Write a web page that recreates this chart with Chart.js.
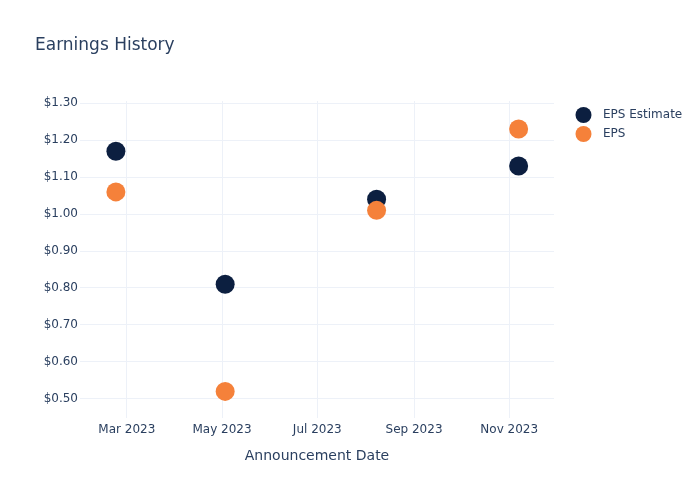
<!DOCTYPE html>
<html lang="en">

<head>
    <meta charset="UTF-8">
    <title>Earnings History</title>
    <script src="https://cdn.jsdelivr.net/npm/chart.js"></script>
    <style>
        html, body { margin: 0; padding: 0; background: #fff; }
        #wrap { width: 700px; height: 500px; }
    </style>
</head>

<body>
    <div id="wrap"><canvas id="grafico"></canvas></div>

<script>
    // dados
    const announceDates = ['2023-02-22', '2023-05-03', '2023-08-08', '2023-11-07'];
    const epsEstimate = [1.17, 0.81, 1.04, 1.13];
    const epsActual = [1.06, 0.52, 1.01, 1.23];
    const xTickDates = ['2023-03-01', '2023-05-01', '2023-07-01', '2023-09-01', '2023-11-01'];
    const yTickValues = [0.5, 0.6, 0.7, 0.8, 0.9, 1.0, 1.1, 1.2, 1.3];
    const monthNames = ['Jan', 'Feb', 'Mar', 'Apr', 'May', 'Jun', 'Jul', 'Aug', 'Sep', 'Oct', 'Nov', 'Dec'];

    const toTime = s => Date.parse(s + 'T00:00:00Z');
    const textColor = '#2a3f5f';
    const gridColor = '#edf1f8';
    const fontFamily = '"DejaVu Sans", Verdana, sans-serif';

    function points(values) {
        return announceDates.map((d, i) => ({ x: toTime(d), y: values[i] }));
    }

    // legenda desenhada à mão, à direita
    const legendaPlugin = {
        id: 'legendaDireita',
        afterDraw(chart) {
            const ctx = chart.ctx;
            ctx.save();
            ctx.font = '12px ' + fontFamily;
            ctx.textBaseline = 'middle';
            chart.data.datasets.forEach((ds, i) => {
                const y = 115 + i * 19;
                ctx.beginPath();
                ctx.arc(583.5, y, 8, 0, Math.PI * 2);
                ctx.fillStyle = ds.backgroundColor;
                ctx.fill();
                ctx.fillStyle = textColor;
                ctx.fillText(ds.label, 603, y);
            });
            ctx.restore();
        }
    };

    new Chart(document.getElementById('grafico'), {
        type: 'scatter',
        data: {
            datasets: [
                {
                    label: 'EPS Estimate',
                    data: points(epsEstimate),
                    backgroundColor: '#0c1f40',
                    borderWidth: 0,
                    pointRadius: 9.5,
                    pointHoverRadius: 9.5,
                    order: 2
                },
                {
                    label: 'EPS',
                    data: points(epsActual),
                    backgroundColor: '#f5813a',
                    borderWidth: 0,
                    pointRadius: 9.5,
                    pointHoverRadius: 9.5,
                    order: 1
                }
            ]
        },
        options: {
            responsive: true,
            maintainAspectRatio: false,
            animation: false,
            layout: { padding: { left: 35, right: 146, top: 0, bottom: 0 } },
            plugins: {
                legend: { display: false },
                tooltip: { enabled: false },
                title: {
                    display: true,
                    text: 'Earnings History',
                    align: 'start',
                    color: textColor,
                    font: { family: fontFamily, size: 17, weight: 'normal' },
                    padding: { top: 35, bottom: 45.6 }
                }
            },
            scales: {
                x: {
                    type: 'linear',
                    min: toTime('2023-01-30'),
                    max: toTime('2023-11-29') + 16 * 3600000,
                    border: { display: false },
                    grid: { color: gridColor, drawTicks: false },
                    afterBuildTicks: scale => {
                        scale.ticks = xTickDates.map(d => ({ value: toTime(d) }));
                    },
                    afterFit: scale => { scale.height = 82; },
                    ticks: {
                        color: textColor,
                        padding: 5,
                        maxRotation: 0,
                        font: { family: fontFamily, size: 12 },
                        callback: v => {
                            const d = new Date(v);
                            return monthNames[d.getUTCMonth()] + ' ' + d.getUTCFullYear();
                        }
                    },
                    title: {
                        display: true,
                        text: 'Announcement Date',
                        color: textColor,
                        font: { family: fontFamily, size: 14 },
                        padding: { top: 0, bottom: 35 }
                    }
                },
                y: {
                    min: 0.448,
                    max: 1.306,
                    border: { display: false },
                    grid: { color: gridColor, drawTicks: false },
                    afterBuildTicks: scale => {
                        scale.ticks = yTickValues.map(v => ({ value: v }));
                    },
                    afterFit: scale => { scale.width = 45; },
                    ticks: {
                        color: textColor,
                        padding: 2,
                        font: { family: fontFamily, size: 12 },
                        callback: v => '$' + v.toFixed(2)
                    }
                }
            }
        },
        plugins: [legendaPlugin]
    });
</script>

</body>

</html>
